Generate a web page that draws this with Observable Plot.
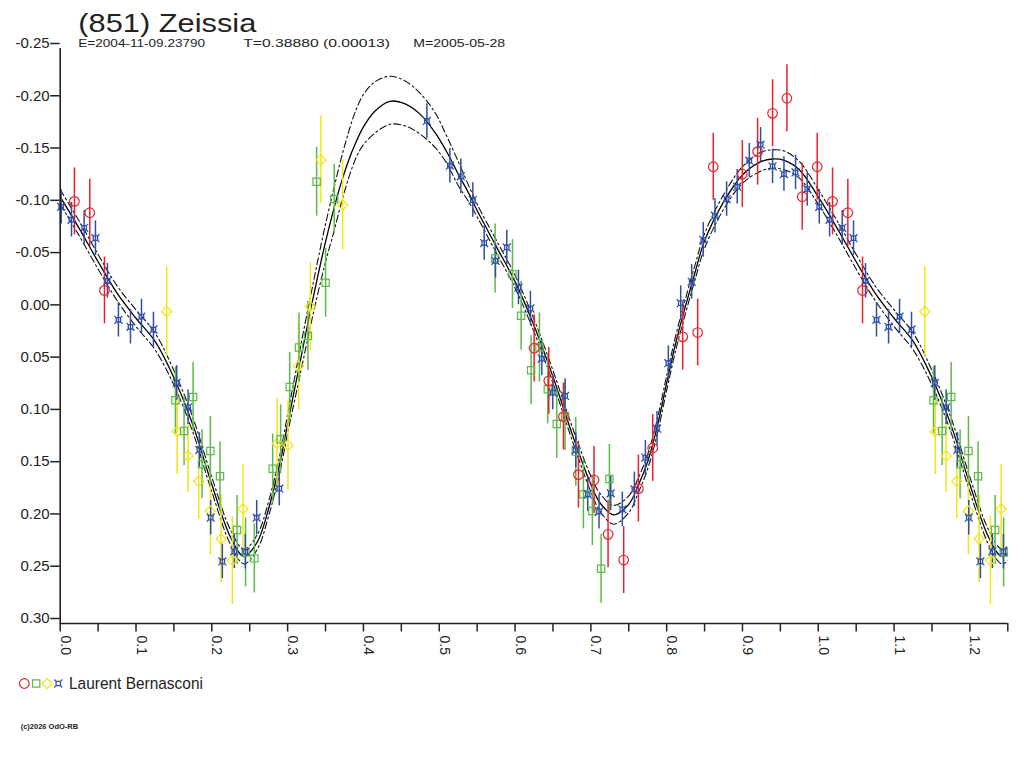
<!DOCTYPE html>
<html><head><meta charset="utf-8">
<script src="https://cdn.jsdelivr.net/npm/d3@7"></script>
<script src="https://cdn.jsdelivr.net/npm/@observablehq/plot@0.6"></script>
<style>
html,body{margin:0;padding:0;background:#fff;overflow:hidden;}
#wrap{position:relative;width:1024px;height:768px;}
#chart{position:absolute;left:0;top:0;}
#overlay{position:absolute;left:0;top:0;}
</style></head><body>
<div id="wrap"><div id="chart"></div><svg id="overlay" width="1024" height="768"></svg></div>
<script>
// ---------- data (phase, magnitude, error) ----------
const redPhase = [0.0188,0.0390,0.0584,0.6252,0.6445,0.6638,0.6836,0.7042,0.7227,0.7433,0.7627,0.7816,0.8211,0.8409,0.8615,0.8998,0.9200,0.9397,0.9586,0.9788,0.9986];
const redMag   = [-0.1038,-0.0929,-0.0186,0.0367,0.0679,0.1021,0.1576,0.1627,0.2147,0.2393,0.1710,0.1321,0.0258,0.0217,-0.1369,-0.1299,-0.1513,-0.1880,-0.2024,-0.1082,-0.1369];
const redErr   = [0.032,0.032,0.032,0.032,0.032,0.032,0.032,0.032,0.032,0.032,0.032,0.032,0.032,0.032,0.032,0.032,0.032,0.032,0.032,0.032,0.032];

const greenPhase = [0.1520,0.1634,0.1753,0.1871,0.1981,0.2108,0.2333,0.2445,0.2561,0.2803,0.2908,0.3027,0.3150,0.3268,0.3382,0.3501,0.3615,0.5737,0.5966,0.6080,0.6212,0.6322,0.6432,0.6550,0.6660,0.6801,0.6902,0.7020,0.7135,0.7245];
const greenMag   = [0.0865,0.1158,0.0833,0.1477,0.1350,0.1592,0.2106,0.2320,0.2377,0.1519,0.1238,0.0737,0.0360,0.0249,-0.1226,-0.0259,-0.1060,-0.0492,-0.0342,0.0057,0.0577,0.0360,0.0759,0.1091,0.1015,0.1356,0.1764,0.1924,0.2476,0.1618];
const greenErr   = [0.032,0.033,0.033,0.033,0.033,0.033,0.033,0.033,0.033,0.033,0.033,0.033,0.033,0.033,0.033,0.033,0.033,0.033,0.033,0.033,0.033,0.033,0.033,0.033,0.033,0.033,0.033,0.033,0.033,0.033];

const yellowPhase = [0.1405,0.1542,0.1687,0.1827,0.1981,0.2122,0.2271,0.2412,0.2860,0.3005,0.3145,0.3300,0.3440,0.3725];
const yellowMag   = [0.0016,0.1165,0.1397,0.1640,0.1924,0.2189,0.2396,0.1902,0.1279,0.1295,0.0536,-0.0032,-0.1436,-0.1002];
const yellowErr   = [0.043,0.041,0.035,0.036,0.042,0.042,0.042,0.042,0.043,0.043,0.042,0.042,0.042,0.043];

const bluePhase = [0.0013,0.0149,0.0316,0.0465,0.0623,0.0768,0.0927,0.1072,0.1230,0.1537,0.1687,0.1836,0.1985,0.2139,0.2297,0.2442,0.2592,0.2890,0.4837,0.5140,0.5285,0.5443,0.5593,0.5742,0.5891,0.6045,0.6203,0.6353,0.6497,0.6660,0.6801,0.6959,0.7108,0.7262,0.7415,0.7574,0.7719,0.7873,0.8022,0.8185,0.8330,0.8483,0.8637,0.8791,0.8931,0.9090,0.9239,0.9397,0.9547,0.9700,0.9854];
const blueMag   = [-0.0986,-0.0862,-0.0785,-0.0686,-0.0278,0.0095,0.0162,0.0064,0.0188,0.0699,0.0932,0.1340,0.1988,0.2406,0.2310,0.2313,0.1988,0.1710,-0.1807,-0.1379,-0.1277,-0.1050,-0.0639,-0.0469,-0.0597,-0.0214,-0.0013,0.0466,0.0791,0.0823,0.1343,0.1764,0.1930,0.1755,0.1908,0.1717,0.1413,0.1136,0.0510,-0.0064,-0.0268,-0.0670,-0.0900,-0.1060,-0.1178,-0.1427,-0.1580,-0.1373,-0.1299,-0.1315,-0.1156];
const blueErr   = bluePhase.map(() => 0.0165);

// fitted curve and its envelope
const curvePhase = [0,0.025,0.05,0.075,0.1,0.125,0.15,0.175,0.2,0.225,0.2425,0.26,0.275,0.29,0.3,0.31,0.32,0.33,0.34,0.35,0.36,0.37,0.38,0.39,0.4,0.415,0.435,0.455,0.475,0.495,0.51,0.525,0.54,0.55,0.575,0.6,0.625,0.65,0.675,0.7,0.7125,0.73,0.75,0.7625,0.775,0.7875,0.8,0.8125,0.825,0.8375,0.85,0.875,0.9,0.925,0.94,0.955,0.975];
const curveMid   = [-0.108,-0.078,-0.046,-0.016,0.008,0.030,0.065,0.110,0.167,0.218,0.236,0.222,0.190,0.146,0.109,0.073,0.037,0.001,-0.033,-0.065,-0.094,-0.120,-0.142,-0.160,-0.175,-0.190,-0.1995,-0.197,-0.187,-0.169,-0.151,-0.130,-0.110,-0.095,-0.061,-0.027,0.015,0.064,0.118,0.167,0.185,0.196,0.186,0.168,0.145,0.112,0.070,0.030,-0.004,-0.036,-0.066,-0.103,-0.129,-0.142,-0.1443,-0.143,-0.134];
const curveUpper = [-0.115,-0.085,-0.053,-0.023,0.000,0.022,0.058,0.103,0.160,0.211,0.229,0.215,0.183,0.138,0.100,0.062,0.024,-0.012,-0.048,-0.082,-0.113,-0.143,-0.169,-0.191,-0.206,-0.218,-0.2235,-0.219,-0.207,-0.188,-0.166,-0.142,-0.117,-0.101,-0.067,-0.033,0.009,0.058,0.111,0.159,0.176,0.187,0.178,0.161,0.138,0.105,0.063,0.023,-0.011,-0.043,-0.073,-0.110,-0.137,-0.151,-0.153,-0.152,-0.142];
const curveLower = [-0.101,-0.071,-0.039,-0.009,0.016,0.038,0.072,0.117,0.174,0.225,0.243,0.229,0.197,0.154,0.118,0.084,0.050,0.016,-0.016,-0.046,-0.072,-0.100,-0.125,-0.145,-0.158,-0.169,-0.1775,-0.176,-0.168,-0.155,-0.140,-0.119,-0.102,-0.089,-0.055,-0.021,0.021,0.070,0.124,0.174,0.193,0.205,0.194,0.175,0.152,0.119,0.077,0.037,0.003,-0.029,-0.059,-0.096,-0.121,-0.133,-0.1355,-0.134,-0.126];

// axes
const yTicks = [-0.25,-0.20,-0.15,-0.10,-0.05,0.00,0.05,0.10,0.15,0.20,0.25,0.30];
const xTickMarks = [0,0.05,0.1,0.15,0.2,0.25,0.3,0.35,0.4,0.45,0.5,0.55,0.6,0.65,0.7,0.75,0.8,0.85,0.9,0.95,1.0,1.05,1.1,1.15,1.2,1.25];
const xTickLabels = [0,0.1,0.2,0.3,0.4,0.5,0.6,0.7,0.8,0.9,1.0,1.1,1.2];
const xDomain = [0, 1.25];
const yDomain = [-0.25, 0.30];

// texts
const titleText = "(851) Zeissia";
const subtitleParts = ["E=2004-11-09.23790", "T=0.38880 (0.00013)", "M=2005-05-28"];
const observerName = "Laurent Bernasconi";
const copyrightText = "(c)2026 OdO-RB";

// colors
const cRed = "#e8222a", cGreen = "#5cba48", cYellow = "#f4e414", cBlue = "#2f4ea6", cInk = "#222";

// ---------- build tables ----------
function points(phase, mag, err) {
  const out = [];
  phase.forEach((p, i) => {
    for (const s of [0, 1]) {
      const x = p + s;
      if (x >= xDomain[0] && x <= xDomain[1]) out.push({x, y: mag[i], e: err[i]});
    }
  });
  return out;
}
const red = points(redPhase, redMag, redErr);
const green = points(greenPhase, greenMag, greenErr);
const yellow = points(yellowPhase, yellowMag, yellowErr);
const blue = points(bluePhase, blueMag, blueErr);

const curve = [];
for (const s of [0, 1]) {
  curvePhase.forEach((p, i) => {
    const x = p + s;
    if (x <= 1.32) curve.push({x, mid: curveMid[i], up: curveUpper[i], lo: curveLower[i]});
  });
}
curve.sort((a, b) => a.x - b.x);

// custom "¤" symbol
const currency = {
  draw(ctx, size) {
    const r = Math.sqrt(size / Math.PI);
    const a = r * 0.5, b = r * 0.9;
    ctx.moveTo(-a, -a); ctx.lineTo(a, -a); ctx.lineTo(a, a); ctx.lineTo(-a, a); ctx.closePath();
    for (const [sx, sy] of [[1,1],[1,-1],[-1,1],[-1,-1]]) {
      ctx.moveTo(sx * a, sy * a); ctx.lineTo(sx * b, sy * b);
    }
  }
};

function errBars(data, color) {
  return Plot.ruleX(data, {x: "x", y1: d => d.y - d.e, y2: d => d.y + d.e, stroke: color, strokeWidth: 1.5});
}

const chart = Plot.plot({
  width: 1024, height: 768,
  marginLeft: 59.7, marginRight: 16.7, marginTop: 48, marginBottom: 145,
  style: {fontFamily: "'Liberation Sans', Arial, sans-serif", background: "transparent", color: cInk},
  x: {domain: xDomain},
  y: {domain: yDomain, reverse: true},
  marks: [
    Plot.line(curve, {x: "x", y: "up", stroke: "#111", strokeWidth: 1.1, strokeDasharray: "7,3,2,3", curve: "catmull-rom", clip: true}),
    Plot.line(curve, {x: "x", y: "lo", stroke: "#111", strokeWidth: 1.1, strokeDasharray: "7,3,2,3", curve: "catmull-rom", clip: true}),
    Plot.line(curve, {x: "x", y: "mid", stroke: "#000", strokeWidth: 1.3, curve: "catmull-rom", clip: true}),
    errBars(yellow, cYellow), errBars(green, cGreen), errBars(red, cRed), errBars(blue, cBlue),
    Plot.dot(yellow, {x: "x", y: "y", symbol: "diamond2", r: 4.6, stroke: cYellow, strokeWidth: 1.2, fill: "none"}),
    Plot.dot(green, {x: "x", y: "y", symbol: "square", r: 4.1, stroke: cGreen, strokeWidth: 1.2, fill: "none"}),
    Plot.dot(red, {x: "x", y: "y", symbol: "circle", r: 4.8, stroke: cRed, strokeWidth: 1.2, fill: "none"}),
    Plot.dot(blue, {x: "x", y: "y", symbol: currency, r: 4.4, stroke: cBlue, strokeWidth: 1.3, fill: "none"}),
    Plot.ruleX([xDomain[0]], {stroke: cInk, strokeWidth: 1.6}),
    Plot.ruleY([yDomain[1]], {stroke: cInk, strokeWidth: 1.6}),
    Plot.axisY({ticks: yTicks, tickFormat: d => d.toFixed(2), tickSize: 9.5, tickPadding: 1, fontSize: 15, dy: -5, stroke: cInk, strokeWidth: 1.5, fill: cInk, label: null}),
    Plot.axisX({ticks: xTickMarks, tickFormat: () => "", tickSize: 8.5, stroke: cInk, strokeWidth: 1.5, label: null}),
    Plot.text(xTickLabels, {x: d => d, text: d => d.toFixed(1), frameAnchor: "bottom", dy: 12, dx: 0.5, rotate: 90, textAnchor: "start", lineAnchor: "bottom", fontSize: 14, fill: cInk})
  ]
});
document.getElementById("chart").appendChild(chart);

// ---------- overlay texts & legend ----------
const ov = d3.select("#overlay").style("font-family", "'Liberation Sans', Arial, sans-serif");

// text drawn with its glyphs widened to the reference's width
function wideText(str, x, y, size, width, extra) {
  const t = ov.append("text").attr("x", 0).attr("y", 0).attr("font-size", size).attr("fill", cInk).text(str);
  if (extra) t.attr("font-weight", extra);
  const w = t.node().getComputedTextLength();
  const sx = w > 0 ? width / w : 1;
  t.attr("transform", `translate(${x},${y}) scale(${sx},1)`);
  return t;
}
wideText(titleText, 78.3, 31.5, 25.5, 178);
const subX = [78.3, 243.3, 413.3], subLen = [127, 147, 92];
subtitleParts.forEach((t, i) => wideText(t, subX[i], 46.5, 10.5, subLen[i]));

const legendItems = [
  {cx: 24.3, type: d3.symbolCircle, size: Math.PI * 4.8 * 4.8, color: cRed},
  {cx: 36.2, type: d3.symbolSquare, size: Math.PI * 4.1 * 4.1, color: cGreen},
  {cx: 47.0, type: d3.symbolDiamond2, size: Math.PI * 4.6 * 4.6, color: cYellow},
  {cx: 58.3, type: currency, size: Math.PI * 4.4 * 4.4, color: cBlue}
];
legendItems.forEach(it => {
  ov.append("path").attr("transform", `translate(${it.cx},683.5)`)
    .attr("d", d3.symbol(it.type, it.size)()).attr("fill", "none").attr("stroke", it.color).attr("stroke-width", 1.2);
});
wideText(observerName, 69, 688.5, 16, 134);
wideText(copyrightText, 20.7, 728.5, 7.5, 57.5, "bold");
</script>
</body></html>
